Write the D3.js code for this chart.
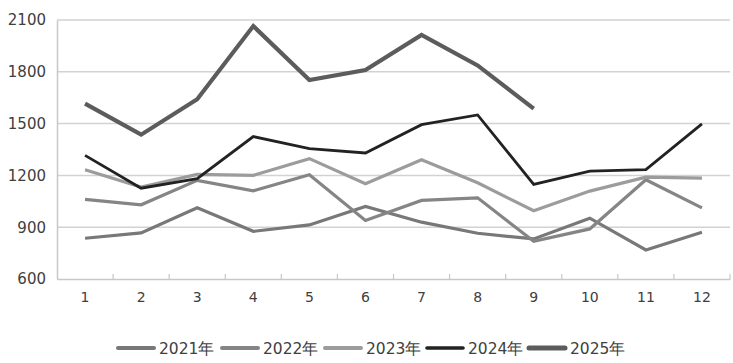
<!DOCTYPE html>
<html><head><meta charset="utf-8">
<script src="https://cdn.jsdelivr.net/npm/d3@7"></script>
<style>body{margin:0;background:#fff;}svg{display:block;} text{font-family:"DejaVu Sans",Verdana,sans-serif;}</style>
</head><body>
<svg id="c" width="733" height="363"></svg>
<script>
const months = [1,2,3,4,5,6,7,8,9,10,11,12];
const yTicks = [600,900,1200,1500,1800,2100];
const seriesNames = ["2021年","2022年","2023年","2024年","2025年"];
const s2021 = [836,867,1012,876,913,1020,929,865,832,952,768,871];
const s2022 = [1061,1030,1171,1111,1204,939,1055,1070,818,890,1175,1012];
const s2023 = [1233,1132,1206,1200,1297,1152,1291,1157,995,1109,1190,1184];
const s2024 = [1316,1126,1181,1425,1355,1330,1494,1550,1148,1225,1233,1498];
const s2025 = [1616,1436,1641,2065,1752,1810,2013,1837,1587];
const colors = ["#787878","#858585","#9c9c9c","#222222","#5c5c5c"];
const widths = [3.2,3.2,3.2,2.8,4.2];

const data = [s2021,s2022,s2023,s2024,s2025];
const svg = d3.select("#c");
const L=57, R=730, T=20, B=279;
const x = d3.scaleBand().domain(months).range([L,R]);
const y = d3.scaleLinear().domain([600,2100]).range([B,T]);

svg.append("g").selectAll("line").data(yTicks.slice(1)).join("line")
  .attr("x1",L).attr("x2",R).attr("y1",d=>y(d)).attr("y2",d=>y(d))
  .attr("stroke","#d2d2d2").attr("stroke-width",1.5);

const ya = svg.append("g").attr("transform",`translate(${L},0)`)
  .call(d3.axisLeft(y).tickValues(yTicks).tickFormat(d3.format("d")).tickSize(0).tickPadding(11));
ya.attr("font-family",null);
ya.select(".domain").attr("stroke","#c8c8c8").attr("stroke-width",1.5);
ya.selectAll("text").attr("font-size",15).attr("fill","#404040");

const xa = svg.append("g").attr("transform",`translate(0,${B})`)
  .call(d3.axisBottom(x).tickSize(0).tickPadding(13));
xa.attr("font-family",null);
xa.select(".domain").attr("stroke","#c8c8c8").attr("stroke-width",1.5);
xa.selectAll("text").attr("font-size",14).attr("fill","#404040");
const bounds = months.map(m=>x(m)).concat([R]).slice(1);
svg.append("g").selectAll("line").data(bounds).join("line")
  .attr("x1",d=>d).attr("x2",d=>d).attr("y1",B-5).attr("y2",B)
  .attr("stroke","#c8c8c8").attr("stroke-width",1.2);

const line = d3.line().x((d,i)=>x(months[i])+x.bandwidth()/2).y(d=>y(d));
data.forEach((s,k)=>{
  svg.append("path").datum(s).attr("d",line).attr("fill","none")
    .attr("stroke",colors[k]).attr("stroke-width",widths[k])
    .attr("stroke-linejoin","miter").attr("stroke-linecap","butt");
});

const lg = svg.append("g");
const legX = [118,222,325,427,529];
seriesNames.forEach((n,k)=>{
  lg.append("line").attr("x1",legX[k]).attr("x2",legX[k]+36).attr("y1",348).attr("y2",348)
    .attr("stroke",colors[k]).attr("stroke-width",widths[k]+0.8).attr("stroke-linecap","round");
  lg.append("text").attr("x",legX[k]+41).attr("y",354).text(n)
    .attr("font-size",15.5).attr("fill","#404040");
});
</script>
</body></html>
